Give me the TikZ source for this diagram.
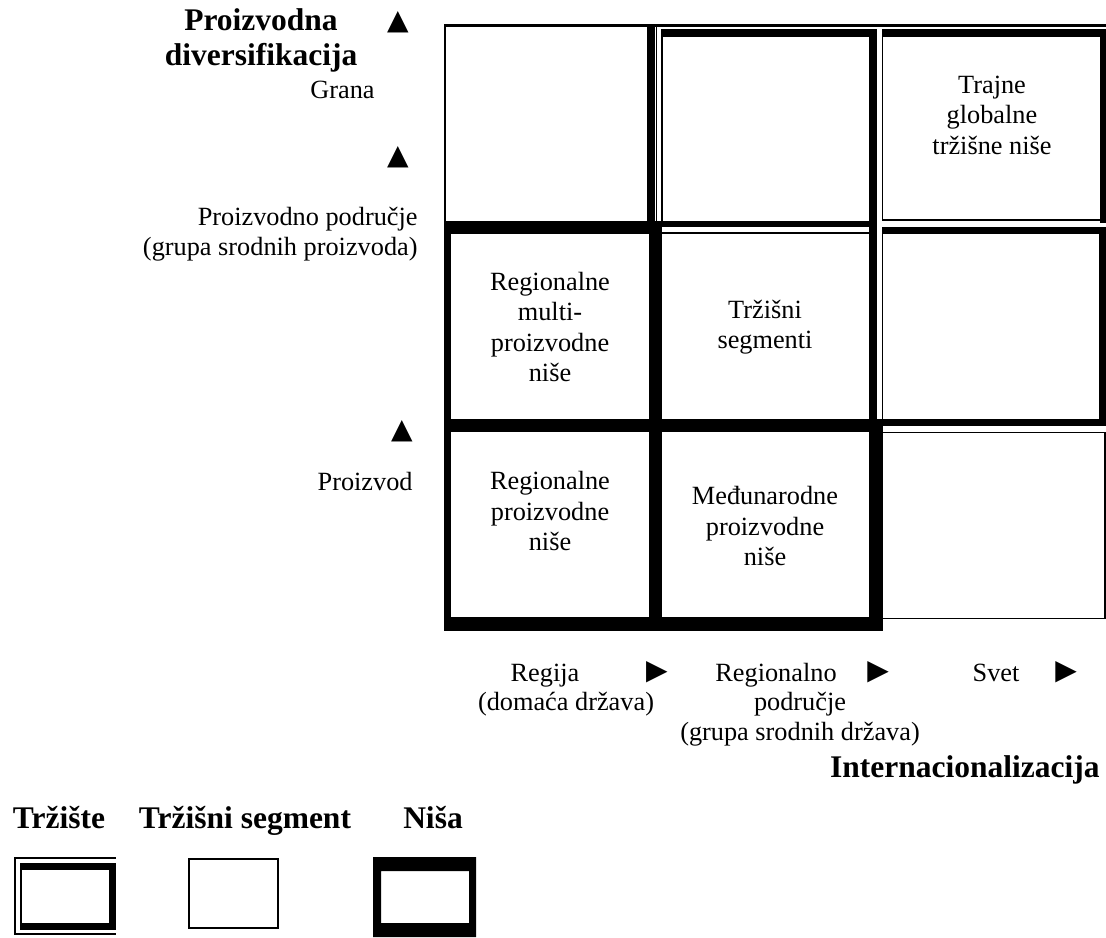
\documentclass[tikz,border=0pt]{standalone}
\usepackage{fontspec}
\setmainfont{Liberation Serif}
\newfontfamily\symfont{DejaVu Sans}
\usepackage{tikz}

\tikzset{
  lbl/.style={font=\fontsize{13.15}{15.25}\selectfont, inner sep=0pt},
  head/.style={font=\fontsize{15.75}{17.5}\selectfont\bfseries, inner sep=0pt},
  tri/.style={font=\symfont\fontsize{14}{14}\selectfont, inner sep=0pt},
  rim/.style={line width=0.6pt}
}

\begin{document}
\begin{tikzpicture}[x=0.5pt, y=-0.5pt]
\useasboundingbox (0,0) rectangle (1106,937);

% grid, row 1
\fill (444,24) rectangle (1106,27);
\fill (444,24) rectangle (446,228);
\fill (647,24) rectangle (655,234);
\fill (444,221) rectangle (655,234);
% market cell, middle top
\draw[rim] (656.5,27) -- (656.5,233) -- (877,233);
\fill (661,29) rectangle (877,37);
\fill (869,29) rectangle (877,227);
\fill (661,221) rectangle (877,227);
\draw[rim] (662,37) -- (662,221);
% right top
\fill (882,29) rectangle (1106,37);
\fill (1100,29) rectangle (1106,223);
\draw[rim] (882.5,37) -- (882.5,220) -- (1100,220);
% row 2, right
\fill (882,227) rectangle (1106,234);
\fill (1099,227) rectangle (1106,426);
\fill (882,419) rectangle (1106,426);
\draw[rim] (882.5,234) -- (882.5,419);
\fill (869,227) rectangle (877,432);
% niches
\fill (444,221) rectangle (451,631);
\fill (649,221) rectangle (662,631);
\fill (444,419) rectangle (877,432);
\fill (869,419) rectangle (883,631);
\fill (444,617) rectangle (883,631);
% row 3, right
\draw[rim] (882.5,432.5) rectangle (1105,618.5);

% cell texts
\node[lbl, align=center] (c13) at (992,115) {Trajne\\globalne\\tržišne niše};
\node[lbl, align=center] (c21) at (550,327) {Regionalne\\multi-\\proizvodne\\niše};
\node[lbl, align=center] (c22) at (765,327) {Tržišni\\segmenti};
\node[lbl, align=center] (c31) at (550,511) {Regionalne\\proizvodne\\niše};
\node[lbl, align=center] (c32) at (765,526) {Međunarodne\\proizvodne\\niše};

% vertical axis
\node[head, align=center] (ytitle) at (261,40) {Proizvodna\\diversifikacija};
\node[tri] (ya) at (398,22) {▲};
\node[tri] (yb) at (398,157) {▲};
\node[tri] (yc) at (402,431) {▲};
\node[lbl, anchor=east] (grana) at (375,90) {Grana};
\node[lbl, align=right, anchor=east] (podrucjep) at (418,234) {Proizvodno područje\\(grupa srodnih proizvoda)};
\node[lbl, anchor=east] (proizvod) at (413,481) {Proizvod};

% horizontal axis
\node[lbl, anchor=base] (regija) at (545,681) {Regija};
\node[lbl, anchor=base] (domaca) at (566,710) {(domaća država)};
\node[tri] (xa) at (657,672) {▶};
\node[lbl, anchor=base] (regionalno) at (776,681) {Regionalno};
\node[lbl, anchor=base] (podrucje) at (800,710) {područje};
\node[lbl, anchor=base] (grupa) at (800,740) {(grupa srodnih država)};
\node[tri] (xb) at (878,672) {▶};
\node[lbl, anchor=base] (svet) at (996,681) {Svet};
\node[tri] (xc) at (1066,672) {▶};
\node[head, anchor=base east] (intern) at (1100,777) {Internacionalizacija};

% legend
\node[head, anchor=base] (trziste) at (59,828) {Tržište};
\node[head, anchor=base] (segment) at (245,828) {Tržišni segment};
\node[head, anchor=base] (nisa) at (433,828) {Niša};
\fill (14,857) rectangle (116,859);
\fill (14,857) rectangle (16,935);
\fill (14,933) rectangle (116,935);
\fill (20,863) rectangle (116,870);
\fill (109,863) rectangle (116,930);
\fill (20,923) rectangle (116,930);
\draw[rim] (21,870) -- (21,923);
\draw[line width=1.3pt] (189,859) rectangle (278,928);
\fill[even odd rule] (373,857) rectangle (476,937) (381,871) rectangle (469,923);
\end{tikzpicture}
\end{document}
